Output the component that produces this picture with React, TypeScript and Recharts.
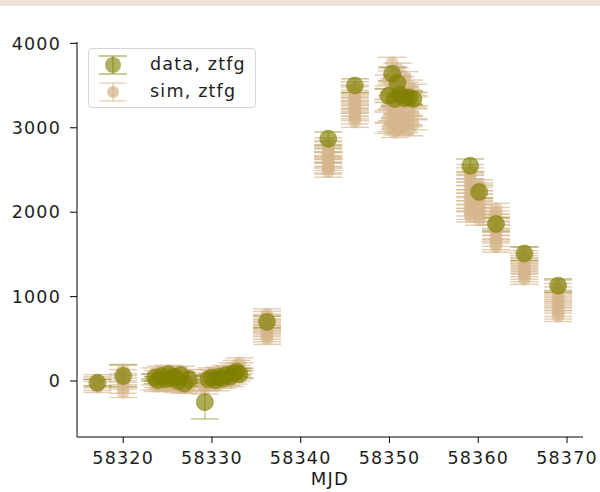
import React from "react";
import { ScatterChart, Scatter, XAxis, YAxis, ErrorBar } from "recharts";

// observed epochs (MJD), flux and flux error
const dataMjd = [
  58317.1, 58320.0,
  58323.6, 58323.9, 58324.3, 58324.7, 58325.1, 58325.4, 58325.8, 58326.2, 58326.5, 58326.9, 58327.4,
  58329.2,
  58329.6, 58330.0, 58330.4, 58330.8, 58331.2, 58331.6, 58332.0, 58332.4, 58332.8, 58333.1,
  58336.2, 58343.1, 58346.1,
  58350.3, 58350.9, 58349.9, 58350.6, 58351.2, 58351.7, 58352.2, 58352.7,
  58359.1, 58360.1, 58362.0, 58365.2, 58369.0,
];
const dataFlux = [
  -20, 60,
  40, 10, 60, 20, 80, 30, 50, 0, 70, -30, 20,
  -250,
  20, 40, 10, 50, 30, 70, 50, 90, 110, 80,
  700, 2870, 3500,
  3640, 3530, 3380, 3340, 3390, 3350, 3360, 3340,
  2550, 2240, 1860, 1510, 1130,
];
const dataErr = [
  40, 130,
  40, 40, 40, 40, 40, 40, 40, 40, 40, 40, 40,
  200,
  40, 40, 40, 40, 40, 40, 40, 40, 40, 40,
  70, 80, 80,
  80, 80, 80, 80, 80, 80, 80, 80,
  80, 80, 80, 80, 80,
];

// simulated fluxes drawn at each observed epoch
const simFlux = [
  [10, -15, -45, -70],
  [130, 70, 20, -30, -80, -130],
  [90, 20, -40], [60, -10, -60], [110, 30, -30], [70, 0, -50], [120, 50, -20], [80, 10, -50],
  [100, 20, -40], [60, -20, -70], [110, 40, -30], [30, -40, -80], [70, 0, -60],
  [-10, -50, -90],
  [70, 10, -40], [90, 30, -20], [60, 0, -50], [100, 40, -10], [90, 30, -20], [120, 60, 10],
  [110, 50, 0], [150, 90, 30], [180, 120, 60], [210, 150, 90],
  [790, 760, 725, 700, 670, 645, 610, 590, 560, 530, 500],
  [2815, 2780, 2770, 2735, 2705, 2690, 2650, 2645, 2600, 2585, 2560, 2530, 2515, 2480],
  [3480, 3440, 3420, 3380, 3350, 3330, 3290, 3260, 3240, 3200, 3170, 3150, 3110, 3070],
  [3770, 3610, 3450, 3300, 3150, 3020],
  [3700, 3520, 3380, 3230, 3100, 2980],
  [3560, 3400, 3270, 3120, 3000],
  [3650, 3480, 3330, 3180, 3050, 2950],
  [3540, 3380, 3240, 3090, 2990],
  [3600, 3420, 3260, 3110, 3010],
  [3500, 3340, 3200, 3080, 2970],
  [3450, 3300, 3160, 3040],
  [2500, 2460, 2420, 2380, 2330, 2290, 2250, 2200, 2160, 2110, 2070, 2020, 1980, 1950],
  [2320, 2280, 2230, 2190, 2150, 2110, 2070, 2030, 1990, 1950, 1910],
  [2040, 1990, 1950, 1910, 1870, 1830, 1790, 1740, 1700, 1660, 1620, 1590],
  [1520, 1480, 1450, 1420, 1390, 1360, 1330, 1300, 1270, 1240, 1210],
  [1130, 1090, 1050, 1010, 980, 940, 900, 870, 830, 800, 770],
];
const simErr = 65;

const xTicks = [58320, 58330, 58340, 58350, 58360, 58370];
const yTicks = [0, 1000, 2000, 3000, 4000];

const OLIVE = "#808000";
const TAN = "#d6b68c";

const dataPoints = dataMjd.map((x, i) => ({ x, y: dataFlux[i], err: dataErr[i] }));
const simPoints = simFlux.flatMap((vals, i) =>
  vals.map((v) => ({ x: dataMjd[i], y: v, err: simErr }))
);

const DataDot = (p: any) => (
  <circle cx={p.cx} cy={p.cy} r={8.5} fill={OLIVE} fillOpacity={0.65} stroke={OLIVE} strokeOpacity={0.5} />
);
const SimDot = (p: any) => (
  <circle cx={p.cx} cy={p.cy} r={6.5} fill={TAN} fillOpacity={0.6} />
);

const font = "DejaVu Sans, sans-serif";
const tickStyle = { fontSize: 17.5, fill: "#1e1e1e", fontFamily: font, letterSpacing: 1.2 };

const LegendBox = () => (
  <div
    style={{
      position: "absolute", left: 88, top: 48, width: 166, height: 58,
      border: "1px solid #d6d6d6", borderRadius: 4, background: "rgba(255,255,255,0.85)",
      fontFamily: font, fontSize: 17.5, color: "#1e1e1e", letterSpacing: 1.2,
    }}
  >
    <svg width={50} height={58} style={{ position: "absolute", left: 0, top: 0 }}>
      <g stroke={OLIVE} strokeOpacity={0.55} strokeWidth={1.5}>
        <line x1={24} x2={24} y1={7} y2={25} />
        <line x1={10} x2={38} y1={7} y2={7} />
        <line x1={10} x2={38} y1={25} y2={25} />
      </g>
      <circle cx={24} cy={16} r={8} fill={OLIVE} fillOpacity={0.62} />
      <g stroke={TAN} strokeOpacity={0.6} strokeWidth={1.5}>
        <line x1={24} x2={24} y1={34} y2={52} />
        <line x1={10} x2={38} y1={34} y2={34} />
        <line x1={10} x2={38} y1={52} y2={52} />
      </g>
      <circle cx={24} cy={43} r={6} fill={TAN} fillOpacity={0.75} />
    </svg>
    <div style={{ position: "absolute", left: 61, top: 4, lineHeight: "22px" }}>data, ztfg</div>
    <div style={{ position: "absolute", left: 61, top: 31, lineHeight: "22px" }}>sim, ztfg</div>
  </div>
);

export default function App() {
  return (
    <div style={{ position: "absolute", left: 0, top: 0, width: 600, height: 492, background: "#fff" }}>
      <div style={{ position: "absolute", left: 0, top: 0, width: 600, height: 6, background: "#ede3d9" }} />
      <ScatterChart width={600} height={492} margin={{ top: 42, right: 17, bottom: 0, left: 0 }}>
        <XAxis
          type="number"
          dataKey="x"
          domain={[58314.8, 58371.8]}
          allowDataOverflow
          ticks={xTicks}
          tickSize={6}
          tickMargin={9}
          height={55}
          stroke="#000"
          tick={tickStyle}
          label={{ value: "MJD", position: "insideBottom", offset: 7, style: { fontSize: 18, fill: "#1e1e1e", fontFamily: font, letterSpacing: 1.2 } }}
        />
        <YAxis
          type="number"
          dataKey="y"
          domain={[-663, 4016]}
          allowDataOverflow
          ticks={yTicks}
          tickSize={7}
          tickMargin={9}
          width={77}
          stroke="#000"
          tick={tickStyle}
        />
        <Scatter data={simPoints} shape={SimDot} isAnimationActive={false}>
          <ErrorBar dataKey="err" direction="y" width={14} stroke={TAN} strokeOpacity={0.65} strokeWidth={1.5} isAnimationActive={false} />
        </Scatter>
        <Scatter data={dataPoints} shape={DataDot} isAnimationActive={false}>
          <ErrorBar dataKey="err" direction="y" width={14} stroke={OLIVE} strokeOpacity={0.45} strokeWidth={1.5} isAnimationActive={false} />
        </Scatter>
      </ScatterChart>
      <LegendBox />
    </div>
  );
}
